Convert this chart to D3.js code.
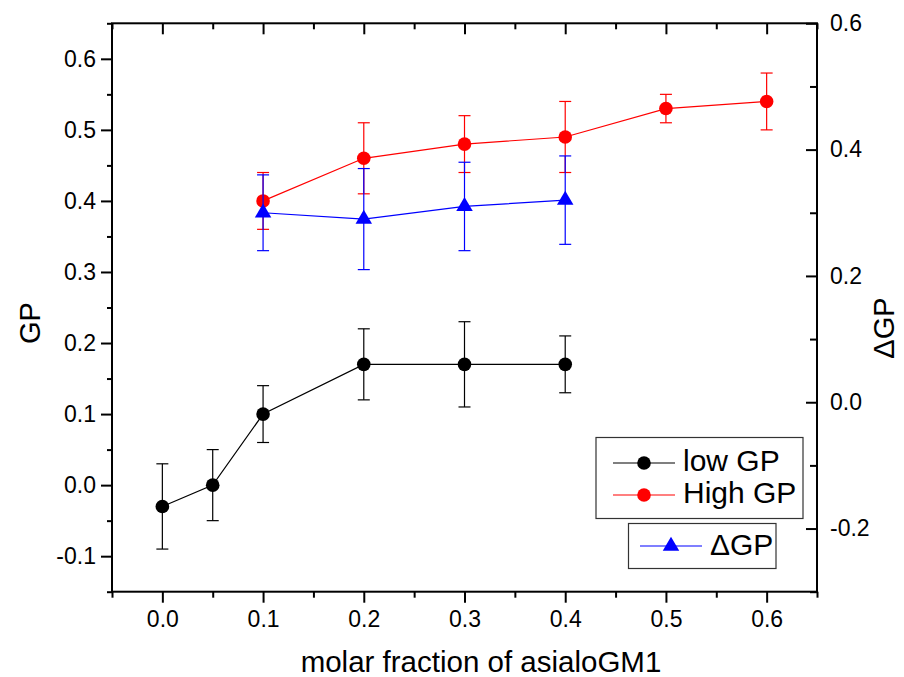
<!DOCTYPE html>
<html>
<head>
<meta charset="utf-8">
<script src="https://cdn.jsdelivr.net/npm/d3@7"></script>
<style>
  html, body { margin: 0; padding: 0; background: #fff; }
  svg { display: block; font-family: "Liberation Sans", Arial, sans-serif; }
</style>
</head>
<body>
<svg id="chart" width="904" height="677"></svg>
<script>
// ---------------- data ----------------
const lowX    = [0.0, 0.05, 0.1, 0.2, 0.3, 0.4];
const lowY    = [-0.03, 0.0, 0.10, 0.17, 0.17, 0.17];
const lowErr  = [0.06, 0.05, 0.04, 0.05, 0.06, 0.04];

const highX   = [0.1, 0.2, 0.3, 0.4, 0.5, 0.6];
const highY   = [0.40, 0.46, 0.48, 0.49, 0.53, 0.54];
const highErr = [0.04, 0.05, 0.04, 0.05, 0.02, 0.04];

const dX      = [0.1, 0.2, 0.3, 0.4];
const dY      = [0.30, 0.29, 0.31, 0.32];
const dErr    = [0.06, 0.08, 0.07, 0.07];

const xTicks      = [0.0, 0.1, 0.2, 0.3, 0.4, 0.5, 0.6];
const xMinorTicks = [-0.05, 0.05, 0.15, 0.25, 0.35, 0.45, 0.55, 0.65];
const yLTicks     = [-0.1, 0.0, 0.1, 0.2, 0.3, 0.4, 0.5, 0.6];
const yLMinor     = [-0.15, -0.05, 0.05, 0.15, 0.25, 0.35, 0.45, 0.55, 0.65];
const yRTicks     = [-0.2, 0.0, 0.2, 0.4, 0.6];
const yRMinor     = [-0.3, -0.1, 0.1, 0.3, 0.5];

const seriesNames = ["low GP", "High GP", "\u0394GP"];
const xTitle = "molar fraction of asialoGM1";
const yLTitle = "GP";
const yRTitle = "\u0394GP";

// ---------------- layout ----------------
const L = 112, R = 817, T = 23.3, B = 591.7;
const svg = d3.select("#chart");

const x  = d3.scaleLinear().domain([-0.05, 0.65]).range([L, R]);
const yL = d3.scaleLinear().domain([-0.15, 0.65]).range([B, T]);
const yR = d3.scaleLinear().domain([-0.3, 0.6]).range([B, T]);

const fmt = d => (Math.abs(d) < 1e-9 ? 0 : d).toFixed(1);

function styleAxis(g, fs) {
  g.select(".domain").remove();
  g.selectAll(".tick line").attr("stroke", "#000").attr("stroke-width", 2);
  g.selectAll(".tick text").attr("fill", "#000").style("font-size", fs + "px")
    .style("font-family", '"Liberation Sans", Arial, sans-serif');
}

const TF = 23;
// bottom axis (outward ticks)
svg.append("g").attr("transform", `translate(0,${B})`)
  .call(d3.axisBottom(x).tickValues(xTicks).tickSize(11).tickPadding(8).tickFormat(fmt))
  .call(g => styleAxis(g, TF));
svg.append("g").attr("transform", `translate(0,${B})`)
  .call(d3.axisBottom(x).tickValues(xMinorTicks).tickSize(6).tickFormat(""))
  .call(g => styleAxis(g, TF));
// top axis (inward ticks)
svg.append("g").attr("transform", `translate(0,${T})`)
  .call(d3.axisTop(x).tickValues(xTicks).tickSize(-11).tickFormat(""))
  .call(g => styleAxis(g, TF));
svg.append("g").attr("transform", `translate(0,${T})`)
  .call(d3.axisTop(x).tickValues(xMinorTicks).tickSize(-6).tickFormat(""))
  .call(g => styleAxis(g, TF));
// left axis (outward)
svg.append("g").attr("transform", `translate(${L},0)`)
  .call(d3.axisLeft(yL).tickValues(yLTicks).tickSize(11).tickPadding(5).tickFormat(fmt))
  .call(g => styleAxis(g, TF));
svg.append("g").attr("transform", `translate(${L},0)`)
  .call(d3.axisLeft(yL).tickValues(yLMinor).tickSize(5).tickFormat(""))
  .call(g => styleAxis(g, TF));
// right axis (inward ticks, labels outside)
svg.append("g").attr("transform", `translate(${R},0)`)
  .call(d3.axisRight(yR).tickValues(yRTicks).tickSizeInner(-11).tickSizeOuter(0).tickPadding(13).tickFormat(fmt))
  .call(g => styleAxis(g, TF));
svg.append("g").attr("transform", `translate(${R},0)`)
  .call(d3.axisRight(yR).tickValues(yRMinor).tickSizeInner(-7).tickSizeOuter(0).tickFormat(""))
  .call(g => styleAxis(g, TF));

// frame
svg.append("rect").attr("x", L).attr("y", T).attr("width", R - L).attr("height", B - T)
  .attr("fill", "none").attr("stroke", "#000").attr("stroke-width", 2);

// titles
svg.append("text").attr("x", 481).attr("y", 672).attr("text-anchor", "middle")
  .style("font-size", "29.5px").attr("fill", "#000").text(xTitle);
svg.append("text").attr("transform", "translate(40,323) rotate(-90)").attr("text-anchor", "middle")
  .style("font-size", "29px").attr("fill", "#000").text(yLTitle);
svg.append("text").attr("transform", "translate(894,328) rotate(-90)").attr("text-anchor", "middle")
  .style("font-size", "29px").attr("fill", "#000").text(yRTitle);

// ---------------- series ----------------
const triH = 14, triW = 16.5;
const triPath = `M0,${-triH * 2 / 3}L${triW / 2},${triH / 3}L${-triW / 2},${triH / 3}Z`;

function drawSeries(xs, ys, es, ysc, color, marker) {
  const data = xs.map((v, i) => ({ x: v, y: ys[i], e: es[i] }));
  const g = svg.append("g");
  g.append("path").datum(data)
    .attr("d", d3.line().x(d => x(d.x)).y(d => ysc(d.y)))
    .attr("fill", "none").attr("stroke", color).attr("stroke-width", 1.2);
  const eb = g.selectAll(".eb").data(data).enter().append("g").attr("stroke", color).attr("stroke-width", 1.2);
  eb.append("line").attr("x1", d => x(d.x)).attr("x2", d => x(d.x))
    .attr("y1", d => ysc(d.y + d.e)).attr("y2", d => ysc(d.y - d.e));
  eb.append("line").attr("x1", d => x(d.x) - 6).attr("x2", d => x(d.x) + 6)
    .attr("y1", d => ysc(d.y + d.e)).attr("y2", d => ysc(d.y + d.e));
  eb.append("line").attr("x1", d => x(d.x) - 6).attr("x2", d => x(d.x) + 6)
    .attr("y1", d => ysc(d.y - d.e)).attr("y2", d => ysc(d.y - d.e));
  if (marker === "circle") {
    g.selectAll("circle").data(data).enter().append("circle")
      .attr("cx", d => x(d.x)).attr("cy", d => ysc(d.y)).attr("r", 6.8).attr("fill", color);
  } else {
    g.selectAll(".tri").data(data).enter().append("path")
      .attr("transform", d => `translate(${x(d.x)},${ysc(d.y)})`).attr("d", triPath).attr("fill", color);
  }
}

drawSeries(lowX, lowY, lowErr, yL, "#000000", "circle");
drawSeries(highX, highY, highErr, yL, "#ff0000", "circle");
drawSeries(dX, dY, dErr, yR, "#0000ff", "tri");

// ---------------- legends ----------------
const lg = svg.append("g");
lg.append("rect").attr("x", 596).attr("y", 437.5).attr("width", 207).attr("height", 81)
  .attr("fill", "#fff").attr("stroke", "#333").attr("stroke-width", 1.2);
lg.append("rect").attr("x", 628.5).attr("y", 523.5).attr("width", 147.5).attr("height", 45)
  .attr("fill", "#fff").attr("stroke", "#333").attr("stroke-width", 1.2);

const legRows = [
  { name: seriesNames[0], color: "#000000", marker: "circle", x0: 613, x1: 675, y: 463, tx: 683, ty: 471 },
  { name: seriesNames[1], color: "#ff0000", marker: "circle", x0: 613, x1: 675, y: 495, tx: 683, ty: 503 },
  { name: seriesNames[2], color: "#0000ff", marker: "tri",    x0: 640, x1: 702, y: 546, tx: 710, ty: 555 }
];
legRows.forEach(r => {
  lg.append("line").attr("x1", r.x0).attr("x2", r.x1).attr("y1", r.y).attr("y2", r.y)
    .attr("stroke", r.color).attr("stroke-width", 1.2);
  const cx = (r.x0 + r.x1) / 2;
  if (r.marker === "circle") {
    lg.append("circle").attr("cx", cx).attr("cy", r.y).attr("r", 6.8).attr("fill", r.color);
  } else {
    lg.append("path").attr("transform", `translate(${cx},${r.y})`).attr("d", triPath).attr("fill", r.color);
  }
  lg.append("text").attr("x", r.tx).attr("y", r.ty).style("font-size", "30px").attr("fill", "#000").text(r.name);
});
</script>
</body>
</html>
